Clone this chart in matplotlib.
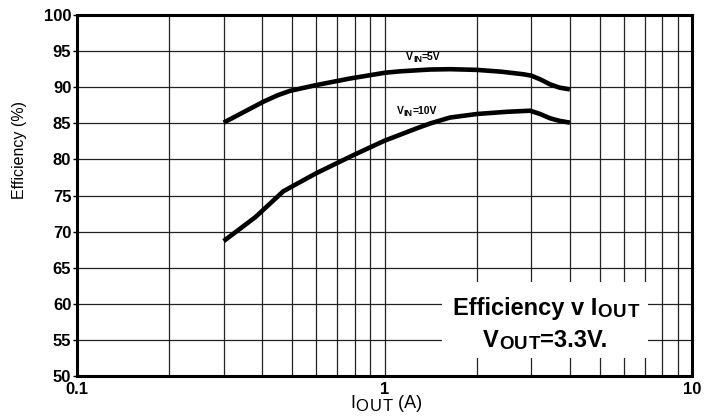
import numpy as np
import matplotlib
matplotlib.use("Agg")
import matplotlib.pyplot as plt
from matplotlib.patches import Rectangle
from matplotlib.ticker import NullLocator

plt.rcParams["font.family"] = ["Liberation Sans", "DejaVu Sans"]

# Efficiency curves
iout_5v = [0.3, 0.35, 0.404, 0.45, 0.493, 0.6, 0.77, 1.0, 1.12, 1.4, 1.63, 2.0, 2.4, 2.82, 3.0, 3.2, 3.45, 3.7, 4.0]
eff_5v = [85.1, 86.6, 88.0, 88.9, 89.5, 90.3, 91.2, 92.0, 92.2, 92.45, 92.5, 92.4, 92.15, 91.8, 91.6, 91.1, 90.4, 89.95, 89.7]

iout_10v = [0.3, 0.38, 0.469, 0.6, 0.792, 1.0, 1.27, 1.41, 1.63, 2.0, 2.5, 2.97, 3.2, 3.45, 3.7, 4.0]
eff_10v = [68.7, 72.0, 75.6, 78.1, 80.6, 82.6, 84.3, 85.0, 85.8, 86.3, 86.6, 86.75, 86.3, 85.7, 85.35, 85.1]

y_ticks = [50, 55, 60, 65, 70, 75, 80, 85, 90, 95, 100]
x_ticks = [0.1, 1, 10]
x_tick_labels = ["0.1", "1", "10"]

W, H = 705, 417
fig = plt.figure(figsize=(W / 100, H / 100), dpi=100)
ax = fig.add_axes([0.109, 0.098, 0.873, 0.866])


def put_pieces(pieces, x_px, base_px):
    """Lay out text pieces (text, size, weight, dy, track) left to right, pixel coords from top-left."""
    renderer = fig.canvas.get_renderer()
    x = x_px
    for s, size, weight, dy, track in pieces:
        chars = list(s) if track else [s]
        for i, ch in enumerate(chars):
            t = fig.text(x / W, 1 - (base_px + dy) / H, ch, fontsize=size, fontweight=weight,
                         ha="left", va="baseline", zorder=7)
            w = t.get_window_extent(renderer).width
            x += w + (track if track and i < len(chars) - 1 else 0)


ax.set_xscale("log")
ax.set_xlim(0.1, 10)
ax.set_ylim(50, 100)

# grid at every minor decade line and every 5 %
minor_x = [m * d for d in (0.1, 1) for m in range(2, 10)]
for xv in minor_x + [1]:
    ax.axvline(xv, color="#222222", lw=0.9, zorder=1)
for yv in y_ticks[1:-1]:
    ax.axhline(yv, color="#222222", lw=0.9, zorder=1)

ax.plot(iout_5v, eff_5v, color="black", lw=3.3, solid_capstyle="butt", zorder=3)
ax.plot(iout_10v, eff_10v, color="black", lw=3.3, solid_capstyle="butt", zorder=3)

ax.set_yticks(y_ticks)
ax.set_yticklabels([str(v) for v in y_ticks], fontweight="bold", fontsize=12)
ax.set_xticks(x_ticks)
ax.set_xticklabels(x_tick_labels, fontweight="bold", fontsize=12)
ax.xaxis.set_minor_locator(NullLocator())
ax.tick_params(axis="y", direction="out", length=3, width=1, pad=1)
ax.tick_params(axis="x", length=0, pad=4)

ax.set_ylabel("Efficiency (%)", fontsize=11.5)
ax.yaxis.set_label_coords(-0.081, 0.626)

for s in ax.spines.values():
    s.set_linewidth(2.2)
    s.set_zorder(6)

# curve labels
put_pieces([("V", 7.5, "bold", 0, 0), ("IN", 6.5, "bold", 1.5, 0), ("=5V", 7.5, "bold", 0, 0)], 406, 60)
put_pieces([("V", 7.5, "bold", 0, 0), ("IN", 6.5, "bold", 1.5, 0), ("=10V", 7.5, "bold", 0, 0)], 397, 114)

# title box in lower right
fig.add_artist(Rectangle((442 / W, 1 - 358 / H), 206 / W, 76 / H, transform=fig.transFigure,
                         facecolor="white", edgecolor="none", zorder=2))
put_pieces([("Efficiency v I", 17, "bold", 0, 0), ("OUT", 13.5, "bold", 2, 1)], 453, 315)
put_pieces([("V", 17, "bold", 0, 0), ("OUT", 13.5, "bold", 2, 1), ("=3.3V.", 17, "bold", 0, 0)], 483, 347)

# x axis label
put_pieces([("I", 13, "normal", 0, 0), ("OUT", 12, "normal", 3, 1.5), (" (A)", 13, "normal", 0, 0)], 350, 408)

fig.savefig("out.png", dpi=100)
